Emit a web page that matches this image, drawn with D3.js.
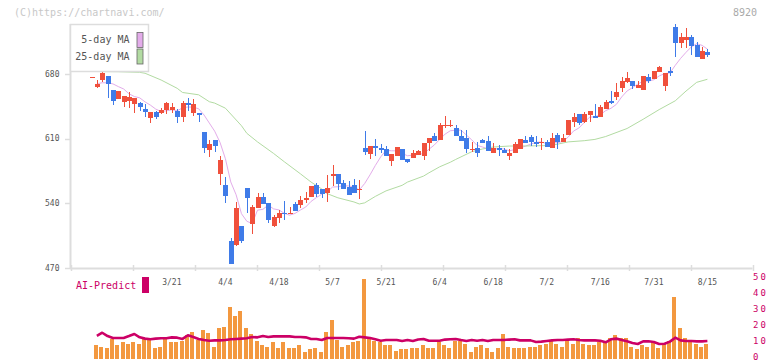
<!DOCTYPE html>
<html><head><meta charset="utf-8">
<script src="https://cdn.jsdelivr.net/npm/d3@7"></script>
<style>
body{margin:0;background:#fff}
svg{display:block}
text{font-family:"DejaVu Sans Mono",monospace}
</style>
</head><body>
<svg id="c" width="772" height="361"></svg>
<script>
// ---- data (trading days, index 0..115) ----
const open = [676.4,666.3,673.8,677.8,662.7,653.3,650.0,650.8,647.9,648.6,642.1,632.7,638.9,638.1,641.4,641.4,640.0,633.8,649.0,638.1,
637.8,617.2,597.7,608.6,571.8,559.9,499.3,494.9,515.5,556.6,517.7,535.0,546.9,540.4,515.5,524.5,529.5,528.5,539.3,538.2,
543.6,546.6,559.9,555.5,551.5,569.1,572.1,562.4,558.0,559.9,555.0,599.6,593.1,602.1,599.9,598.8,586.2,591.6,598.8,587.7,
589.1,592.3,591.6,605.0,612.9,608.6,624.5,624.5,621.2,612.9,610.7,598.5,599.9,608.6,607.5,594.8,600.2,597.7,591.6,594.8,
598.8,608.6,611.5,606.1,605.0,606.1,600.2,614.0,606.1,614.0,628.0,636.4,628.0,635.6,634.5,633.8,642.4,651.1,654.8,664.5,
671.3,672.7,665.2,662.7,676.4,674.6,682.5,667.3,683.6,731.2,713.9,716.8,719.7,711.4,695.9,703.5];
const high = [676.4,673.8,684.3,677.8,662.7,661.6,656.2,660.5,654.0,649.5,647.5,638.9,640.3,643.5,650.0,648.3,642.1,650.8,654.4,653.3,
637.8,617.2,608.6,608.6,591.3,568.2,502.8,541.8,515.5,556.6,538.2,551.5,551.5,540.4,527.4,532.8,542.9,535.7,541.8,548.0,
552.6,559.1,562.4,555.5,570.7,581.8,572.1,565.3,564.5,566.4,565.3,618.3,602.1,609.7,604.2,602.0,593.4,601.3,598.8,587.7,
597.7,597.7,605.6,610.7,615.8,627.3,634.9,630.2,624.8,619.4,619.4,606.1,606.1,609.3,612.9,605.0,603.2,599.6,598.8,606.7,
609.7,613.2,614.0,612.9,611.0,608.6,615.8,616.5,614.7,630.2,637.5,636.4,639.2,639.6,647.5,646.4,651.9,661.9,669.9,677.1,
682.5,672.7,672.7,677.8,679.7,683.2,689.0,680.8,687.3,734.1,724.0,730.1,722.2,715.0,709.5,706.7];
const low = [676.4,664.5,671.0,654.0,646.4,652.5,644.3,642.9,638.0,640.3,633.1,627.3,631.3,636.4,636.7,638.0,626.6,628.4,640.3,634.8,
628.4,594.8,590.5,595.9,559.9,540.7,474.4,493.8,497.4,529.2,506.8,535.0,539.6,518.4,514.0,518.4,522.0,528.0,532.1,534.6,
540.7,546.6,547.2,545.5,541.8,558.8,554.4,555.2,549.0,551.5,544.4,592.3,588.0,591.6,594.8,591.3,580.8,591.6,586.9,583.4,
589.1,592.3,586.9,596.7,607.5,608.6,621.2,622.3,613.2,607.8,594.8,595.9,590.5,605.0,597.0,594.8,591.6,594.8,586.9,594.8,
598.8,605.6,602.1,600.7,597.7,600.7,600.2,598.5,606.1,614.0,623.0,625.1,626.6,628.0,632.0,633.8,642.4,647.5,651.9,660.8,
669.9,663.8,665.2,662.7,670.6,674.6,682.5,661.9,678.2,698.7,707.8,707.8,700.6,698.7,695.9,698.7];
const close = [676.4,669.2,681.1,668.9,651.1,661.6,656.2,655.1,654.0,644.3,639.2,638.9,633.5,641.0,648.6,644.6,633.5,648.6,646.4,647.5,
636.0,600.2,604.2,602.4,586.9,548.0,474.4,535.0,499.6,545.8,535.7,546.9,539.6,522.3,525.6,529.9,528.5,529.5,532.1,543.6,
546.1,559.1,550.1,550.1,556.6,572.1,561.3,555.2,549.0,551.5,555.5,595.9,602.1,600.2,597.7,591.3,593.4,601.3,586.9,584.8,
594.8,596.7,605.6,610.7,607.5,624.8,625.2,625.0,613.2,607.8,598.5,599.0,594.8,605.0,597.0,600.2,597.4,594.8,594.8,603.9,
609.7,605.6,606.7,604.2,606.0,600.7,610.4,606.7,610.4,630.2,633.1,627.3,636.4,639.6,632.0,644.0,649.7,649.0,660.8,672.7,
676.0,667.3,668.1,677.8,672.4,683.2,687.9,680.8,681.4,713.9,720.4,720.4,710.6,698.7,704.9,700.2];

// 5-day moving average (null where not drawn)
const ma5 = [null,669.5,670.5,670.5,669.3,666.4,663.8,658.6,655.6,654.2,649.8,646.3,642.0,639.4,640.2,641.3,640.2,643.3,644.3,644.1,
642.4,635.7,626.9,618.1,605.9,588.3,563.2,549.3,528.8,520.6,518.1,532.6,533.5,538.1,534.0,532.9,529.2,527.2,529.1,532.7,
536.0,542.1,546.2,549.8,552.4,557.6,558.0,559.1,558.8,557.8,554.5,561.4,570.8,581.0,590.3,597.4,596.9,596.8,594.1,591.5,
592.2,592.9,593.8,598.5,603.1,609.1,614.8,618.6,619.1,619.2,613.9,608.7,602.7,601.0,598.9,599.2,598.9,598.9,596.8,598.2,
600.1,601.8,604.1,606.0,606.4,604.6,605.6,605.6,606.8,611.7,618.2,621.5,627.5,633.3,633.7,635.9,640.3,642.9,647.1,655.2,
661.6,665.2,669.0,672.4,672.3,673.8,677.9,680.4,681.1,689.4,696.9,703.4,709.3,712.8,711.0,707.0];

// 25-day moving average, read at these days
const ma25Day = [1,5,9,10,13,16,17,20,22,23,25,28,29,31,34,36,39,41,43,44,46,49,50,51,53,55,58,59,62,63,65,67,68,71,73,75,78,81,85,87,89,92,94,96,100,103,106,109,111,113,115];
const ma25    = [682.7,682.5,681.8,680.8,673.5,664.5,660.0,657.5,650.0,648.5,643.0,624.0,615.8,606.5,594.0,585.0,572.0,563.0,555.5,550.5,546.0,541.5,539.3,540.5,547.5,553.5,559.5,563.0,569.5,573.0,579.5,584.5,587.5,595.9,598.8,601.0,602.0,602.1,602.5,604.0,606.5,607.8,609.2,612.3,621.0,631.0,641.5,651.0,661.5,671.0,674.3];

// volume (relative, right-axis units)
const volume = [null,8.2,7.5,6.9,12.4,8.2,10.1,9.4,10.1,9.4,12.4,11.5,6.9,7.5,12.4,10.1,10.1,11.3,14.5,16.4,
11.5,18.2,15.9,7.5,18.9,20.1,32.1,27.0,29.6,18.9,15.1,11.3,8.2,7.5,10.1,6.9,10.1,6.3,6.3,8.2,
4.4,5.7,6.3,3.8,16.4,23.9,11.9,7.5,8.2,10.1,11.3,50.3,13.2,11.3,10.1,8.2,8.8,5.0,5.7,5.7,
6.9,6.3,8.2,6.9,6.3,10.1,8.2,6.3,11.3,11.3,9.4,4.4,7.5,8.8,6.3,4.4,6.9,15.1,7.5,6.9,
6.3,6.3,7.5,7.5,8.8,9.4,11.9,9.4,7.5,11.3,9.4,12.6,9.4,8.8,8.8,10.1,11.3,12.6,14.5,12.6,
12.6,7.5,5.7,8.8,7.5,10.1,6.9,9.4,10.7,38.4,18.9,12.6,10.1,9.4,7.5,9.4];

// AI-Predict (right axis 0-50)
const aiPredict = [null,14.3,16.2,14.1,12.9,12.9,12.9,14.1,15.4,13.3,12.5,12.1,12.5,12.7,12.7,13.3,13.1,12.3,14.6,13.5,
12.3,11.6,11.2,11.4,11.4,11.6,12.1,12.3,12.5,12.7,13.5,13.3,14.1,13.5,13.9,13.9,13.9,13.9,13.5,13.5,
13.3,12.3,12.3,11.6,12.9,12.9,12.9,12.9,12.7,12.5,13.7,13.3,12.9,12.1,11.2,11.6,11.6,11.6,11.0,11.6,
11.0,11.9,12.3,11.2,11.2,11.2,11.9,12.1,12.3,11.6,11.0,11.6,11.2,11.6,11.0,11.6,11.6,11.6,11.9,12.1,
11.4,11.4,11.4,10.4,10.6,11.0,11.4,11.6,11.6,11.9,12.1,11.6,11.4,11.4,11.4,11.2,10.2,12.1,12.5,11.6,
10.8,9.8,9.1,10.8,10.8,10.4,9.1,9.3,10.6,13.1,11.4,11.0,11.0,10.8,10.8,11.0];

const dateLabels = ["3/21","4/4","4/18","5/7","5/21","6/4","6/18","7/2","7/16","7/31","8/15"];
const dateIdx    = [15,25,35,45,55,65,75,85,95,105,115];
const priceTicks = [680,610,540,470];
const rightTicks = [0,10,20,30,40,50];

// ---- scales ----
const x  = d3.scaleLinear().domain([0,115]).range([91.5,707.4]);
const y  = d3.scaleLinear().domain([470,680]).range([268,74]);
const yR = d3.scaleLinear().domain([0,50]).range([358.5,279]);
const xt = d3.scaleLinear().domain([0,11]).range([70.5,752.5]);

const UP="#f0503c", DN="#3f7be8", PINK="#e3acea", GREEN="#b2dba2", ORANGE="#f3983f", CRIM="#cc0066", AX="#dddddd";
const svg = d3.select("#c");

// watermark & code
svg.append("text").attr("x",14).attr("y",12.5).attr("dominant-baseline","middle")
  .attr("font-size",10).attr("fill","#c8c8c8").text("(C)https://chartnavi.com/");
svg.append("text").attr("x",757).attr("y",12.5).attr("dominant-baseline","middle").attr("text-anchor","end")
  .attr("font-size",10).attr("fill","#aaaaaa").text("8920");

// axes
svg.append("line").attr("x1",70.5).attr("x2",70.5).attr("y1",24).attr("y2",269).attr("stroke",AX).attr("stroke-width",2);
svg.append("line").attr("x1",70).attr("x2",752.5).attr("y1",268.5).attr("y2",268.5).attr("stroke",AX).attr("stroke-width",2);
svg.append("g").selectAll("line").data(priceTicks).join("line")
  .attr("x1",65).attr("x2",70).attr("y1",d=>Math.round(y(d))+0.5).attr("y2",d=>Math.round(y(d))+0.5)
  .attr("stroke",AX).attr("stroke-width",1.5);
svg.append("g").selectAll("text").data(priceTicks).join("text")
  .attr("x",59.5).attr("y",d=>y(d)).attr("text-anchor","end").attr("dominant-baseline","middle")
  .attr("font-size",8).attr("fill","#555").text(d=>d);
svg.append("g").selectAll("line").data(d3.range(12)).join("line")
  .attr("x1",d=>Math.round(xt(d))+0.5).attr("x2",d=>Math.round(xt(d))+0.5).attr("y1",265).attr("y2",271)
  .attr("stroke",AX).attr("stroke-width",1.5);
svg.append("g").selectAll("text").data(dateIdx).join("text")
  .attr("x",d=>x(d)).attr("y",282.5).attr("text-anchor","middle").attr("dominant-baseline","middle")
  .attr("font-size",8).attr("fill","#555").text((d,i)=>dateLabels[i]);

// moving averages
const idx = d3.range(close.length);
svg.append("path").datum(idx.filter(i=>ma5[i]!=null))
  .attr("d",d3.line().x(i=>x(i)).y(i=>y(ma5[i])))
  .attr("fill","none").attr("stroke",PINK).attr("stroke-width",1);
svg.append("path").datum(d3.range(ma25.length))
  .attr("d",d3.line().x(k=>x(ma25Day[k])).y(k=>y(ma25[k])))
  .attr("fill","none").attr("stroke",GREEN).attr("stroke-width",1);

// candles
const cg = svg.append("g").attr("shape-rendering","crispEdges");
cg.selectAll("line").data(idx).join("line")
  .attr("x1",i=>Math.round(x(i))+0.5).attr("x2",i=>Math.round(x(i))+0.5)
  .attr("y1",i=>y(high[i])).attr("y2",i=>y(low[i]))
  .attr("stroke",i=>close[i]>=open[i]?UP:DN).attr("stroke-width",1);
cg.selectAll("rect").data(idx).join("rect")
  .attr("x",i=>Math.round(x(i))-2).attr("width",5)
  .attr("y",i=>y(Math.max(open[i],close[i])))
  .attr("height",i=>Math.max(1,Math.abs(y(open[i])-y(close[i]))))
  .attr("fill",i=>close[i]>=open[i]?UP:DN);

// legend
svg.append("rect").attr("x",70.5).attr("y",24.5).attr("width",78).attr("height",47)
  .attr("fill","#fff").attr("stroke",AX).attr("stroke-width",1.5);
const leg=[["5-day MA",PINK,40],["25-day MA",GREEN,56.5]];
leg.forEach(([t,c,yy])=>{
  svg.append("text").attr("x",129.5).attr("y",yy).attr("text-anchor","end").attr("dominant-baseline","middle")
    .attr("font-size",10).attr("fill","#555").text(t);
  svg.append("rect").attr("x",137).attr("y",yy-7.5).attr("width",6).attr("height",15)
    .attr("fill",c).attr("stroke","#666").attr("stroke-width",0.8);
});

// volume panel
svg.append("g").attr("shape-rendering","crispEdges").selectAll("rect")
  .data(idx.filter(i=>volume[i]!=null)).join("rect")
  .attr("x",i=>Math.round(x(i))-3).attr("width",4)
  .attr("y",i=>yR(volume[i])).attr("height",i=>yR(0)-yR(volume[i]))
  .attr("fill",ORANGE);
svg.append("path").datum(idx.filter(i=>aiPredict[i]!=null))
  .attr("d",d3.line().x(i=>x(i)).y(i=>yR(aiPredict[i])))
  .attr("fill","none").attr("stroke",CRIM).attr("stroke-width",2.6).attr("stroke-linejoin","round");
svg.append("g").selectAll("text").data(rightTicks).join("text")
  .attr("x",753).attr("y",d=>yR(d)-1.5).attr("dominant-baseline","middle")
  .attr("font-size",9).attr("letter-spacing",2).attr("fill",CRIM).text(d=>d);
svg.append("text").attr("x",76).attr("y",286).attr("dominant-baseline","middle")
  .attr("font-size",10).attr("fill",CRIM).text("AI-Predict");
svg.append("rect").attr("x",142).attr("y",277).attr("width",7).attr("height",16).attr("fill",CRIM);
</script>
</body></html>
